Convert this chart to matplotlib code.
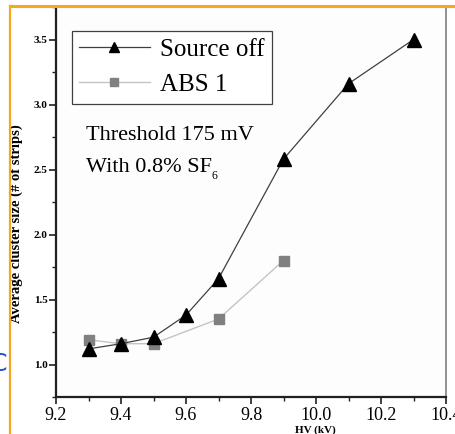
import matplotlib
matplotlib.use("Agg")
import matplotlib.pyplot as plt
from matplotlib.lines import Line2D
from matplotlib.ticker import MultipleLocator, FormatStrFormatter

plt.rcParams['font.family'] = ['Liberation Serif', 'DejaVu Serif']

# HV scan (kV) and average cluster size (# of strips)
hv_source_off = [9.3, 9.4, 9.5, 9.6, 9.7, 9.9, 10.1, 10.3]
cs_source_off = [1.12, 1.16, 1.21, 1.38, 1.66, 2.58, 3.16, 3.50]
hv_abs1 = [9.3, 9.4, 9.5, 9.7, 9.9]
cs_abs1 = [1.19, 1.16, 1.16, 1.35, 1.80]

x_ticks = [9.2, 9.4, 9.6, 9.8, 10.0, 10.2, 10.4]
x_tick_labels = ["9.2", "9.4", "9.6", "9.8", "10.0", "10.2", "10.4"]
y_ticks = [1.0, 1.5, 2.0, 2.5, 3.0, 3.5]

W, H = 456, 434
fig = plt.figure(figsize=(W / 100, H / 100), dpi=100)
fig.patch.set_facecolor('white')

ax = fig.add_axes([56 / W, 1 - 397 / H, 390 / W, 390 / H])
ax.set_facecolor('#fdfdfd')

ax.plot(hv_abs1, cs_abs1, color='#c4c4c4', lw=1.0, marker='s', ms=7.5,
        mfc='#808080', mec='#808080', label='ABS 1', zorder=2)
ax.plot(hv_source_off, cs_source_off, color='#404040', lw=0.9, marker='^', ms=9.5,
        mfc='black', mec='black', label='Source off', zorder=3)

ax.set_xlim(9.2, 10.4)
ax.set_ylim(0.75, 3.75)
ax.set_xticks(x_ticks)
ax.set_xticklabels(x_tick_labels, fontsize=13)
ax.xaxis.set_minor_locator(MultipleLocator(0.1))
ax.set_yticks(y_ticks)
ax.yaxis.set_major_formatter(FormatStrFormatter('%.1f'))
ax.yaxis.set_minor_locator(MultipleLocator(0.25))
for lab in ax.get_yticklabels():
    lab.set_fontsize(8)
    lab.set_fontweight('bold')

ax.tick_params(axis='both', which='major', direction='out', length=5, width=1.2, color='#202020')
ax.tick_params(axis='both', which='minor', direction='out', length=3, width=1.0, color='#202020')
ax.tick_params(axis='x', pad=2)
ax.tick_params(axis='y', pad=1)

ax.spines['top'].set_visible(False)
ax.spines['left'].set_linewidth(1.6)
ax.spines['left'].set_color('#202020')
ax.spines['bottom'].set_linewidth(1.6)
ax.spines['bottom'].set_color('#202020')
ax.spines['right'].set_linewidth(1.2)
ax.spines['right'].set_color('#808080')

handles, labels = ax.get_legend_handles_labels()
leg = ax.legend(handles[::-1], labels[::-1], loc='upper left',
                bbox_to_anchor=((72 - 56) / 390, (397 - 31) / 390),
                fontsize=18, frameon=True, fancybox=False, framealpha=1,
                edgecolor='#404040', handlelength=2.8, handletextpad=0.4,
                borderpad=0.3, labelspacing=0.5, borderaxespad=0,
                markerscale=0.75)
leg.get_frame().set_linewidth(0.9)

ax.text((86 - 56) / 390, (397 - 136) / 390, "Threshold 175 mV", transform=ax.transAxes,
        fontsize=16, va='center', ha='left')
sf = ax.text((86 - 56) / 390, (397 - 168) / 390, "With 0.8% SF",
             transform=ax.transAxes, fontsize=16, va='center', ha='left')
ax.annotate("6", xy=(1, 0), xycoords=sf, xytext=(-0.5, 1), textcoords='offset points',
            fontsize=8.5, ha='left', va='center')

ax.set_ylabel("Average cluster size (# of strips)", fontsize=10.5, fontweight='bold')
ax.yaxis.set_label_coords((23 - 56) / 390, (397 - 224) / 390)
fig.text(315 / W, 1 - 425 / H, "HV (kV)", fontsize=8, fontweight='bold', ha='center', va='top')

# slide frame lines and partial glyph at the left edge
fig.add_artist(Line2D([10 / W, 1], [1 - 6 / H, 1 - 6 / H], transform=fig.transFigure,
                      color='#f5a623', lw=2.2))
fig.add_artist(Line2D([10 / W, 10 / W], [1 - 6 / H, 0], transform=fig.transFigure,
                      color='#f5a623', lw=1.6))
fig.text(-9 / W, 1 - 364 / H, "C", fontsize=17, color='#1f4fd8', family='DejaVu Sans',
         ha='left', va='center')

fig.savefig("out.png", dpi=100, facecolor='white')
